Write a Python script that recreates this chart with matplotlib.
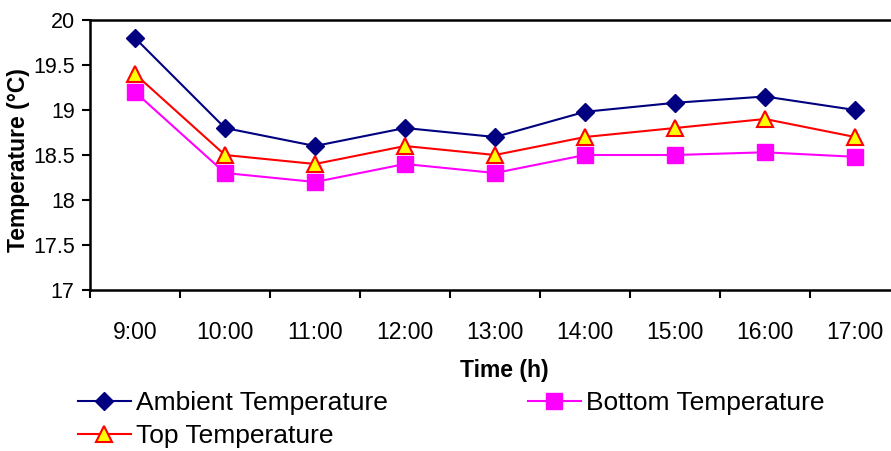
import matplotlib

matplotlib.use("Agg")
import matplotlib.pyplot as plt
from matplotlib.ticker import FixedLocator, NullFormatter

plt.rcParams["font.family"] = ["Liberation Sans", "DejaVu Sans"]

times = ["9:00", "10:00", "11:00", "12:00", "13:00", "14:00", "15:00", "16:00", "17:00"]
ambient = [19.8, 18.8, 18.6, 18.8, 18.7, 18.98, 19.08, 19.15, 19.0]
top = [19.4, 18.5, 18.4, 18.6, 18.5, 18.7, 18.8, 18.9, 18.7]
bottom = [19.2, 18.3, 18.2, 18.4, 18.3, 18.5, 18.5, 18.53, 18.48]
yticks = [17, 17.5, 18, 18.5, 19, 19.5, 20]

fig = plt.figure(figsize=(8.91, 4.51), dpi=100)
ax = fig.add_axes([90 / 891, 161 / 451, 810 / 891, 270 / 451])

x = list(range(len(times)))
ax.plot(x, ambient, color="#000080", lw=1.5, marker="D", ms=9,
        mfc="#000080", mec="#000080", label="Ambient Temperature")
ax.plot(x, top, color="#ff0000", lw=1.5, marker="^", ms=11,
        mfc="#ffff00", mec="#ff0000", mew=1.5, label="Top Temperature")
ax.plot(x, bottom, color="#ff00ff", lw=1.5, marker="s", ms=11,
        mfc="#ff00ff", mec="#ff00ff", label="Bottom Temperature")

ax.set_xlim(-0.5, len(times) - 0.5)
ax.set_ylim(17, 20)
ax.set_yticks(yticks)
ax.set_yticklabels([f"{v:g}" for v in yticks], fontsize=15.5)

# boundary ticks between categories, labels centred on categories
ax.xaxis.set_major_locator(FixedLocator([i - 0.5 for i in range(len(times) + 1)]))
ax.xaxis.set_major_formatter(NullFormatter())
ax.set_xticks(x, minor=True)
ax.set_xticklabels(times, minor=True, fontsize=16.5)
ax.tick_params(axis="x", which="major", direction="out", length=6, width=1.5)
ax.tick_params(axis="x", which="minor", length=0, pad=22)
ax.tick_params(axis="y", direction="out", length=6, width=1.5, pad=5)

for side in ["left", "bottom", "top", "right"]:
    ax.spines[side].set_linewidth(1.8)

fig.text(19 / 891, 1 - 160 / 451, "Temperature (°C)", rotation=90,
         ha="center", va="center", fontsize=16.5, fontweight="bold")
fig.text(504 / 891, 1 - 370 / 451, "Time (h)", ha="center", va="center",
         fontsize=16.5, fontweight="bold")

fig.legend(loc="upper left", bbox_to_anchor=(78 / 891, 1 - 391 / 451),
           ncol=2, frameon=False, fontsize=19, handlelength=2.0,
           handletextpad=0.2, columnspacing=5.3, labelspacing=0.35,
           borderpad=0, borderaxespad=0)

fig.savefig("out.png", dpi=100)
plt.close(fig)
